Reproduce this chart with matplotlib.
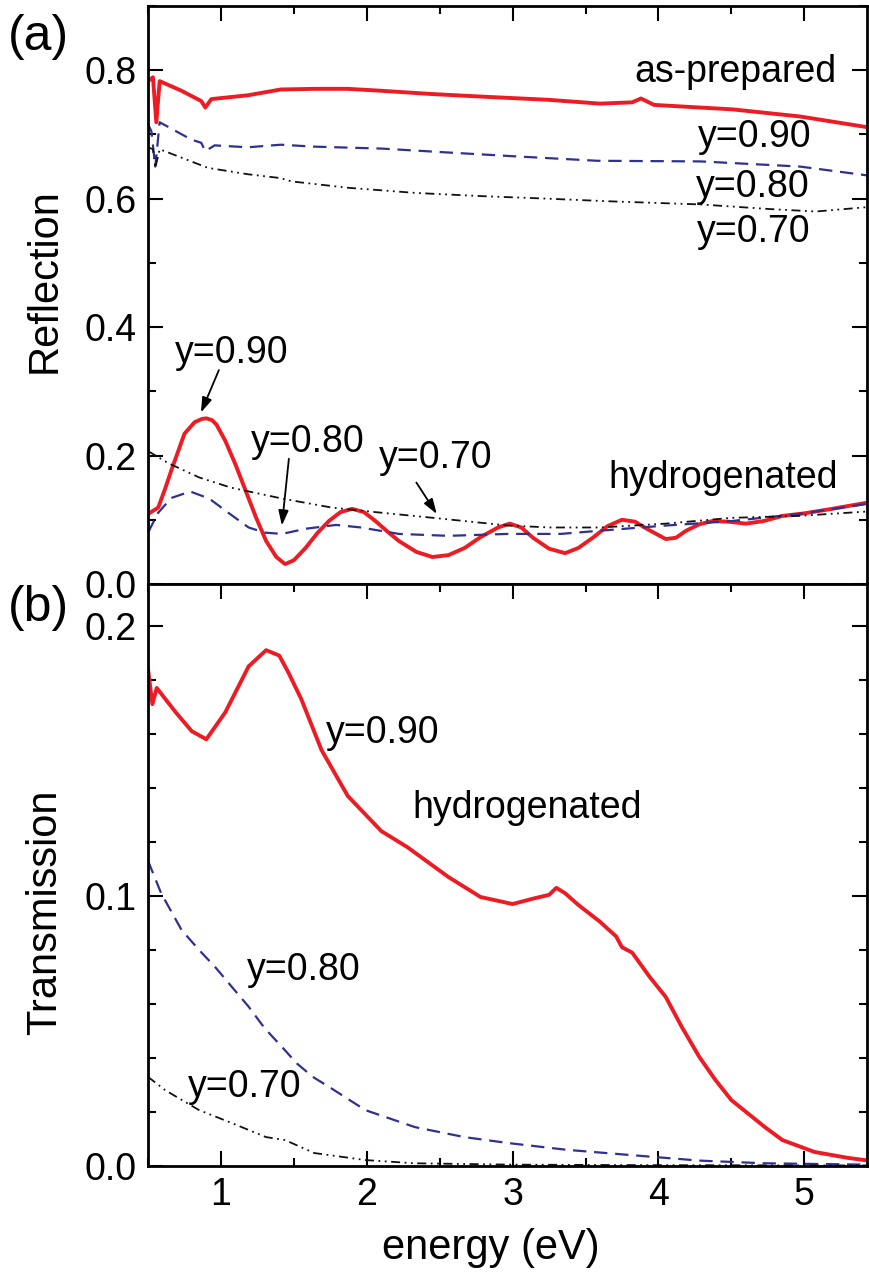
import numpy as np
import matplotlib
matplotlib.use('Agg')
import matplotlib.pyplot as plt
from matplotlib.ticker import MultipleLocator

plt.rcParams['font.family'] = ['Liberation Sans', 'DejaVu Sans']

RED = '#ed1c24'
BLUE = '#2e3192'
BLACK = '#111111'

# ---- (a) reflection, as-prepared films ----
r_prep_x = [0.5, 0.534, 0.557, 0.58, 0.73, 0.865, 0.893, 0.934, 1.185, 1.41, 1.64, 1.87,
            2.1, 2.44, 2.78, 3.24, 3.6, 3.82, 3.88, 3.97, 4.51, 4.97, 5.44]
r_prep_90 = [0.783, 0.789, 0.719, 0.783, 0.768, 0.752, 0.742, 0.755, 0.761, 0.770, 0.771, 0.771,
             0.768, 0.763, 0.759, 0.754, 0.748, 0.750, 0.756, 0.746, 0.739, 0.728, 0.711]

r_prep80_x = [0.5, 0.523, 0.55, 0.58, 0.797, 0.865, 0.893, 0.957, 1.185, 1.41, 1.64, 2.1,
              2.55, 3.01, 3.58, 4.29, 4.97, 5.44]
r_prep_80 = [0.716, 0.705, 0.650, 0.719, 0.692, 0.687, 0.674, 0.683, 0.680, 0.684, 0.681, 0.678,
             0.672, 0.666, 0.659, 0.658, 0.650, 0.636]

r_prep70_x = [0.5, 0.534, 0.55, 0.58, 0.728, 0.91, 1.185, 1.41, 1.48, 1.87, 2.33, 2.78,
              3.24, 3.65, 4.29, 4.75, 5.08, 5.44]
r_prep_70 = [0.680, 0.677, 0.648, 0.677, 0.664, 0.648, 0.638, 0.632, 0.627, 0.617, 0.609, 0.604,
             0.600, 0.596, 0.591, 0.584, 0.580, 0.587]

# ---- (a) reflection, hydrogenated films ----
r_hyd90_x = [0.5, 0.57, 0.62, 0.66, 0.75, 0.82, 0.87, 0.9, 0.94, 0.97, 1.03, 1.10, 1.17, 1.24,
             1.31, 1.38, 1.44, 1.50, 1.58, 1.66, 1.74, 1.82, 1.9, 1.98, 2.06, 2.14, 2.22, 2.34,
             2.45, 2.56, 2.67, 2.78, 2.9, 2.98, 3.06, 3.14, 3.25, 3.36, 3.45, 3.55, 3.65, 3.75,
             3.84, 3.92, 4.05, 4.12, 4.19, 4.28, 4.37, 4.48, 4.6, 4.72, 4.85, 5.0, 5.19, 5.44]
r_hyd_90 = [0.109, 0.119, 0.150, 0.177, 0.234, 0.252, 0.257, 0.258, 0.255, 0.248, 0.223,
            0.186, 0.145, 0.104, 0.067, 0.042, 0.031, 0.037, 0.056, 0.079, 0.098, 0.112, 0.117,
            0.112, 0.098, 0.082, 0.067, 0.050, 0.042, 0.045, 0.056, 0.073, 0.088, 0.094, 0.088,
            0.072, 0.055, 0.048, 0.056, 0.072, 0.090, 0.100, 0.097, 0.086, 0.070, 0.072, 0.083,
            0.093, 0.098, 0.097, 0.094, 0.098, 0.106, 0.110, 0.117, 0.127]

r_hyd80_x = [0.5, 0.57, 0.66, 0.79, 0.92, 1.05, 1.19, 1.30, 1.42, 1.58, 1.79, 1.96, 2.22, 2.56,
             2.97, 3.33, 3.6, 4.05, 4.5, 4.96, 5.44]
r_hyd_80 = [0.080, 0.111, 0.134, 0.144, 0.133, 0.111, 0.088, 0.080, 0.078, 0.086, 0.092, 0.088,
            0.078, 0.075, 0.078, 0.078, 0.083, 0.091, 0.098, 0.109, 0.125]

r_hyd70_x = [0.5, 0.64, 0.85, 1.07, 1.42, 1.76, 2.1, 2.5, 2.97, 3.26, 3.6, 4.05, 4.5, 4.96, 5.44]
r_hyd_70 = [0.207, 0.188, 0.166, 0.150, 0.133, 0.119, 0.111, 0.102, 0.091, 0.088, 0.088, 0.094,
            0.103, 0.106, 0.113]

# ---- (b) transmission, hydrogenated films ----
t90_x = [0.5, 0.53, 0.56, 0.69, 0.8, 0.9, 1.03, 1.19, 1.31, 1.4, 1.46, 1.55, 1.69, 1.87, 2.1,
         2.28, 2.56, 2.78, 3.0, 3.14, 3.25, 3.3, 3.36, 3.45, 3.6, 3.71, 3.75, 3.82, 3.94, 4.05,
         4.16, 4.28, 4.39, 4.5, 4.73, 4.85, 5.07, 5.3, 5.44]
t_90 = [0.184, 0.171, 0.177, 0.168, 0.161, 0.158, 0.168, 0.185, 0.191, 0.189, 0.183, 0.173,
        0.154, 0.137, 0.124, 0.118, 0.107, 0.0996, 0.097, 0.099, 0.1004, 0.103, 0.101, 0.0967,
        0.0904, 0.085, 0.081, 0.079, 0.070, 0.0626, 0.0515, 0.0404, 0.0319, 0.0244, 0.0144,
        0.0096, 0.0052, 0.003, 0.002]

t80_x = [0.5, 0.59, 0.73, 0.85, 0.96, 1.08, 1.19, 1.30, 1.42, 1.52, 1.63, 1.75, 1.99, 2.33,
         2.67, 2.97, 3.37, 3.82, 4.28, 4.73, 5.44]
t_80 = [0.113, 0.101, 0.0874, 0.080, 0.0737, 0.066, 0.059, 0.051, 0.044, 0.038, 0.033, 0.029,
        0.0207, 0.0144, 0.0107, 0.0085, 0.006, 0.004, 0.002, 0.001, 0.0005]

t70_x = [0.5, 0.62, 0.85, 1.07, 1.31, 1.44, 1.64, 1.99, 2.33, 3.0, 4.0, 5.44]
t_70 = [0.033, 0.028, 0.0207, 0.016, 0.0107, 0.0096, 0.0048, 0.0022, 0.001, 0.0005, 0.0003, 0.0002]

DASH = (0, (6, 3.5))
DASHDOTDOT = (0, (5, 2.5, 1, 2.5, 1, 2.5))

fig = plt.figure(figsize=(8.69, 12.83), dpi=100)
W, H = 869, 1283
x0, x1 = 148, 867
ax1 = fig.add_axes([x0 / W, 1 - 584 / H, (x1 - x0) / W, (584 - 6) / H])
ax2 = fig.add_axes([x0 / W, 1 - 1166 / H, (x1 - x0) / W, (1166 - 584) / H])

red_kw = dict(color=RED, lw=2.8, solid_joinstyle='round')
blue_kw = dict(color=BLUE, lw=1.6, ls=DASH)
black_kw = dict(color=BLACK, lw=1.3, ls=DASHDOTDOT)

ax1.plot(r_prep_x, r_prep_90, **red_kw)
ax1.plot(r_prep80_x, r_prep_80, **blue_kw)
ax1.plot(r_prep70_x, r_prep_70, **black_kw)
ax1.plot(r_hyd90_x, r_hyd_90, **red_kw)
ax1.plot(r_hyd80_x, r_hyd_80, **blue_kw)
ax1.plot(r_hyd70_x, r_hyd_70, **black_kw)

ax2.plot(t90_x, t_90, **red_kw)
ax2.plot(t80_x, t_80, **blue_kw)
ax2.plot(t70_x, t_70, **black_kw)

ax1.set_xlim(0.5, 5.43)
ax2.set_xlim(0.5, 5.43)
ax1.set_ylim(0, 0.9)
ax2.set_ylim(0, 0.2155)

for ax in (ax1, ax2):
    ax.xaxis.set_major_locator(MultipleLocator(1))
    ax.xaxis.set_minor_locator(MultipleLocator(0.5))
    ax.tick_params(which='both', direction='in', top=True, right=True, width=1.5,
                   labelsize=27, pad=8)
    ax.tick_params(which='major', length=11)
    ax.tick_params(which='minor', length=5.5)
    for s in ax.spines.values():
        s.set_linewidth(2)

ax1.yaxis.set_major_locator(MultipleLocator(0.2))
ax1.yaxis.set_minor_locator(MultipleLocator(0.1))
ax1.tick_params(which='both', bottom=False, labelbottom=False)
ax1.yaxis.set_major_formatter(lambda v, p: f'{v:.1f}')
ax2.yaxis.set_major_locator(MultipleLocator(0.1))
ax2.yaxis.set_minor_locator(MultipleLocator(0.02))
ax2.yaxis.set_major_formatter(lambda v, p: f'{v:.1f}')
ax2.xaxis.set_major_formatter(lambda v, p: f'{v:g}')

ax1.set_ylabel('Reflection', fontsize=30, va='center')
ax1.yaxis.set_label_coords((45 - x0) / (x1 - x0), (584 - 281) / 578)
ax2.set_ylabel('Transmission', fontsize=30, va='center')
ax2.yaxis.set_label_coords((45 - x0) / (x1 - x0), (1166 - 912) / 582)
ax2.set_xlabel('energy (eV)', fontsize=30, va='center')
ax2.xaxis.set_label_coords((491 - x0) / (x1 - x0), (1166 - 1248) / 582)

fig.text(8 / W, 1 - 37 / H, '(a)', fontsize=36, ha='left', va='center')
fig.text(8 / W, 1 - 608 / H, '(b)', fontsize=36, ha='left', va='center')

fs = 27
ax1.text(4.53, 0.781, 'as-prepared', fontsize=fs, ha='center', va='baseline')
ax1.text(4.66, 0.68, 'y=0.90', fontsize=fs, ha='center', va='baseline')
ax1.text(4.65, 0.603, 'y=0.80', fontsize=fs, ha='center', va='baseline')
ax1.text(4.65, 0.533, 'y=0.70', fontsize=fs, ha='center', va='baseline')
ax1.text(4.445, 0.15, 'hydrogenated', fontsize=fs, ha='center', va='baseline')

arrow = dict(arrowstyle='-|>,head_length=0.9,head_width=0.3', color='black', lw=1.3,
             shrinkA=0, shrinkB=0)
ax1.text(1.075, 0.344, 'y=0.90', fontsize=fs, ha='center', va='baseline')
ax1.annotate('', xy=(0.863, 0.267), xytext=(0.986, 0.333), arrowprops=arrow)
ax1.text(1.596, 0.205, 'y=0.80', fontsize=fs, ha='center', va='baseline')
ax1.annotate('', xy=(1.418, 0.091), xytext=(1.466, 0.195), arrowprops=arrow)
ax1.text(2.47, 0.18, 'y=0.70', fontsize=fs, ha='center', va='baseline')
ax1.annotate('', xy=(2.48, 0.109), xytext=(2.34, 0.158), arrowprops=arrow)

ax2.text(2.11, 0.1567, 'y=0.90', fontsize=fs, ha='center', va='baseline')
ax2.text(3.10, 0.129, 'hydrogenated', fontsize=fs, ha='center', va='baseline')
ax2.text(1.57, 0.0689, 'y=0.80', fontsize=fs, ha='center', va='baseline')
ax2.text(1.16, 0.0256, 'y=0.70', fontsize=fs, ha='center', va='baseline')

fig.savefig('out.png', dpi=100)
